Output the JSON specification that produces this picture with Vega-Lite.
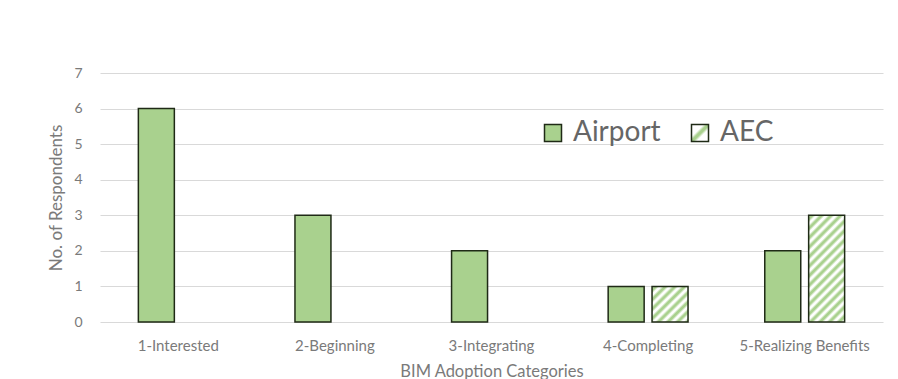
{
  "$schema": "https://vega.github.io/schema/vega-lite/v6.json",
  "width": 783,
  "height": 249,
  "autosize": {"type": "none"},
  "padding": {"left": 100, "top": 73, "right": 15, "bottom": 57},
  "background": "#ffffff",
  "config": {
    "font": "Lato",
    "view": {"stroke": null}
  },
  "data": {
    "values": [
      {"Category": "1-Interested", "Series": "Airport", "Count": 6},
      {"Category": "1-Interested", "Series": "AEC", "Count": 0},
      {"Category": "2-Beginning", "Series": "Airport", "Count": 3},
      {"Category": "2-Beginning", "Series": "AEC", "Count": 0},
      {"Category": "3-Integrating", "Series": "Airport", "Count": 2},
      {"Category": "3-Integrating", "Series": "AEC", "Count": 0},
      {"Category": "4-Completing", "Series": "Airport", "Count": 1},
      {"Category": "4-Completing", "Series": "AEC", "Count": 1},
      {"Category": "5-Realizing Benefits", "Series": "Airport", "Count": 2},
      {"Category": "5-Realizing Benefits", "Series": "AEC", "Count": 3}
    ]
  },
  "encoding": {
    "x": {
      "field": "Category",
      "type": "nominal",
      "sort": null,
      "scale": {"paddingInner": 0.49, "paddingOuter": 0.245},
      "axis": {
        "title": "BIM Adoption Categories",
        "labelAngle": 0,
        "labelFont": "Lato",
        "labelFontSize": 15,
        "labelColor": "#7a7a7a",
        "labelPadding": 16,
        "domain": false,
        "ticks": false,
        "titleFont": "Lato",
        "titleFontSize": 16.5,
        "titleFontWeight": "normal",
        "titleColor": "#7a7a7a",
        "titlePadding": 10
      }
    },
    "xOffset": {
      "field": "Series",
      "type": "nominal",
      "scale": {"domain": ["Airport", "AEC"], "paddingInner": 0.18, "paddingOuter": 0}
    },
    "y": {
      "field": "Count",
      "type": "quantitative",
      "scale": {"domain": [0, 7], "nice": false},
      "axis": {
        "title": "No. of Respondents",
        "values": [0, 1, 2, 3, 4, 5, 6, 7],
        "grid": true,
        "gridColor": "#d9d9d9",
        "gridWidth": 1,
        "domain": false,
        "ticks": false,
        "labelFont": "Lato",
        "labelFontSize": 14,
        "labelColor": "#7a7a7a",
        "labelPadding": 18,
        "titleFont": "Lato",
        "titleFontSize": 17,
        "titleFontWeight": "normal",
        "titleColor": "#7a7a7a",
        "titlePadding": 8
      }
    }
  },
  "layer": [
    {
      "transform": [{"filter": "datum.Series === 'Airport'"}],
      "mark": {"type": "bar", "stroke": "#1f2a16", "strokeWidth": 1.5},
      "encoding": {
        "fill": {
          "field": "Series",
          "type": "nominal",
          "scale": {
            "domain": ["Airport", "AEC"],
            "range": [
              "#a9d18e",
              {"expr": "{gradient: 'linear', x1: 0, y1: 0, x2: 1, y2: 1, stops: [{offset: 0, color: '#ffffff'}, {offset: 0.36, color: '#ffffff'}, {offset: 0.46, color: '#a9d18e'}, {offset: 0.54, color: '#a9d18e'}, {offset: 0.64, color: '#ffffff'}, {offset: 1, color: '#ffffff'}]}"}
            ]
          },
          "legend": {
            "title": null,
            "orient": "none",
            "legendX": 439,
            "legendY": 46,
            "direction": "horizontal",
            "columns": 2,
            "columnPadding": 25,
            "padding": 0,
            "symbolType": "square",
            "symbolSize": 289,
            "labelFont": "Lato",
            "labelFontSize": 28,
            "labelColor": "#666666",
            "labelOffset": 6,
            "labelLimit": 300,
            "encode": {
              "symbols": {
                "update": {
                  "stroke": {"value": "#333333"},
                  "strokeWidth": {"value": 1.5}
                }
              }
            }
          }
        }
      }
    },
    {
      "transform": [{"filter": "datum.Series === 'AEC' && datum.Count > 0"}],
      "mark": {"type": "bar", "stroke": "#1f2a16", "strokeWidth": 1.5},
      "encoding": {
        "fill": {
          "condition": {
            "test": "datum.Category === '5-Realizing Benefits'",
            "value": {
              "gradient": "linear",
              "x1": 0, "y1": 0, "x2": 0.408, "y2": 1.201,
              "stops": [
                {"offset": 0, "color": "#ffffff"}, {"offset": 0.02, "color": "#a9d18e"}, {"offset": 0.0333, "color": "#a9d18e"}, {"offset": 0.0533, "color": "#ffffff"},
                {"offset": 0.0667, "color": "#ffffff"}, {"offset": 0.0867, "color": "#a9d18e"}, {"offset": 0.1, "color": "#a9d18e"}, {"offset": 0.12, "color": "#ffffff"},
                {"offset": 0.1333, "color": "#ffffff"}, {"offset": 0.1533, "color": "#a9d18e"}, {"offset": 0.1667, "color": "#a9d18e"}, {"offset": 0.1867, "color": "#ffffff"},
                {"offset": 0.2, "color": "#ffffff"}, {"offset": 0.22, "color": "#a9d18e"}, {"offset": 0.2333, "color": "#a9d18e"}, {"offset": 0.2533, "color": "#ffffff"},
                {"offset": 0.2667, "color": "#ffffff"}, {"offset": 0.2867, "color": "#a9d18e"}, {"offset": 0.3, "color": "#a9d18e"}, {"offset": 0.32, "color": "#ffffff"},
                {"offset": 0.3333, "color": "#ffffff"}, {"offset": 0.3533, "color": "#a9d18e"}, {"offset": 0.3667, "color": "#a9d18e"}, {"offset": 0.3867, "color": "#ffffff"},
                {"offset": 0.4, "color": "#ffffff"}, {"offset": 0.42, "color": "#a9d18e"}, {"offset": 0.4333, "color": "#a9d18e"}, {"offset": 0.4533, "color": "#ffffff"},
                {"offset": 0.4667, "color": "#ffffff"}, {"offset": 0.4867, "color": "#a9d18e"}, {"offset": 0.5, "color": "#a9d18e"}, {"offset": 0.52, "color": "#ffffff"},
                {"offset": 0.5333, "color": "#ffffff"}, {"offset": 0.5533, "color": "#a9d18e"}, {"offset": 0.5667, "color": "#a9d18e"}, {"offset": 0.5867, "color": "#ffffff"},
                {"offset": 0.6, "color": "#ffffff"}, {"offset": 0.62, "color": "#a9d18e"}, {"offset": 0.6333, "color": "#a9d18e"}, {"offset": 0.6533, "color": "#ffffff"},
                {"offset": 0.6667, "color": "#ffffff"}, {"offset": 0.6867, "color": "#a9d18e"}, {"offset": 0.7, "color": "#a9d18e"}, {"offset": 0.72, "color": "#ffffff"},
                {"offset": 0.7333, "color": "#ffffff"}, {"offset": 0.7533, "color": "#a9d18e"}, {"offset": 0.7667, "color": "#a9d18e"}, {"offset": 0.7867, "color": "#ffffff"},
                {"offset": 0.8, "color": "#ffffff"}, {"offset": 0.82, "color": "#a9d18e"}, {"offset": 0.8333, "color": "#a9d18e"}, {"offset": 0.8533, "color": "#ffffff"},
                {"offset": 0.8667, "color": "#ffffff"}, {"offset": 0.8867, "color": "#a9d18e"}, {"offset": 0.9, "color": "#a9d18e"}, {"offset": 0.92, "color": "#ffffff"},
                {"offset": 0.9333, "color": "#ffffff"}, {"offset": 0.9533, "color": "#a9d18e"}, {"offset": 0.9667, "color": "#a9d18e"}, {"offset": 0.9867, "color": "#ffffff"},
                {"offset": 1, "color": "#ffffff"}
              ]
            }
          },
          "value": {
            "gradient": "linear",
            "x1": 0, "y1": 0, "x2": 1, "y2": 1,
            "stops": [
              {"offset": 0, "color": "#ffffff"}, {"offset": 0.04, "color": "#a9d18e"}, {"offset": 0.0667, "color": "#a9d18e"}, {"offset": 0.1067, "color": "#ffffff"},
              {"offset": 0.1333, "color": "#ffffff"}, {"offset": 0.1733, "color": "#a9d18e"}, {"offset": 0.2, "color": "#a9d18e"}, {"offset": 0.24, "color": "#ffffff"},
              {"offset": 0.2667, "color": "#ffffff"}, {"offset": 0.3067, "color": "#a9d18e"}, {"offset": 0.3333, "color": "#a9d18e"}, {"offset": 0.3733, "color": "#ffffff"},
              {"offset": 0.4, "color": "#ffffff"}, {"offset": 0.44, "color": "#a9d18e"}, {"offset": 0.4667, "color": "#a9d18e"}, {"offset": 0.5067, "color": "#ffffff"},
              {"offset": 0.5333, "color": "#ffffff"}, {"offset": 0.5733, "color": "#a9d18e"}, {"offset": 0.6, "color": "#a9d18e"}, {"offset": 0.64, "color": "#ffffff"},
              {"offset": 0.6667, "color": "#ffffff"}, {"offset": 0.7067, "color": "#a9d18e"}, {"offset": 0.7333, "color": "#a9d18e"}, {"offset": 0.7733, "color": "#ffffff"},
              {"offset": 0.8, "color": "#ffffff"}, {"offset": 0.84, "color": "#a9d18e"}, {"offset": 0.8667, "color": "#a9d18e"}, {"offset": 0.9067, "color": "#ffffff"},
              {"offset": 0.9333, "color": "#ffffff"}, {"offset": 0.9733, "color": "#a9d18e"}, {"offset": 1, "color": "#a9d18e"}
            ]
          }
        }
      }
    }
  ]
}
